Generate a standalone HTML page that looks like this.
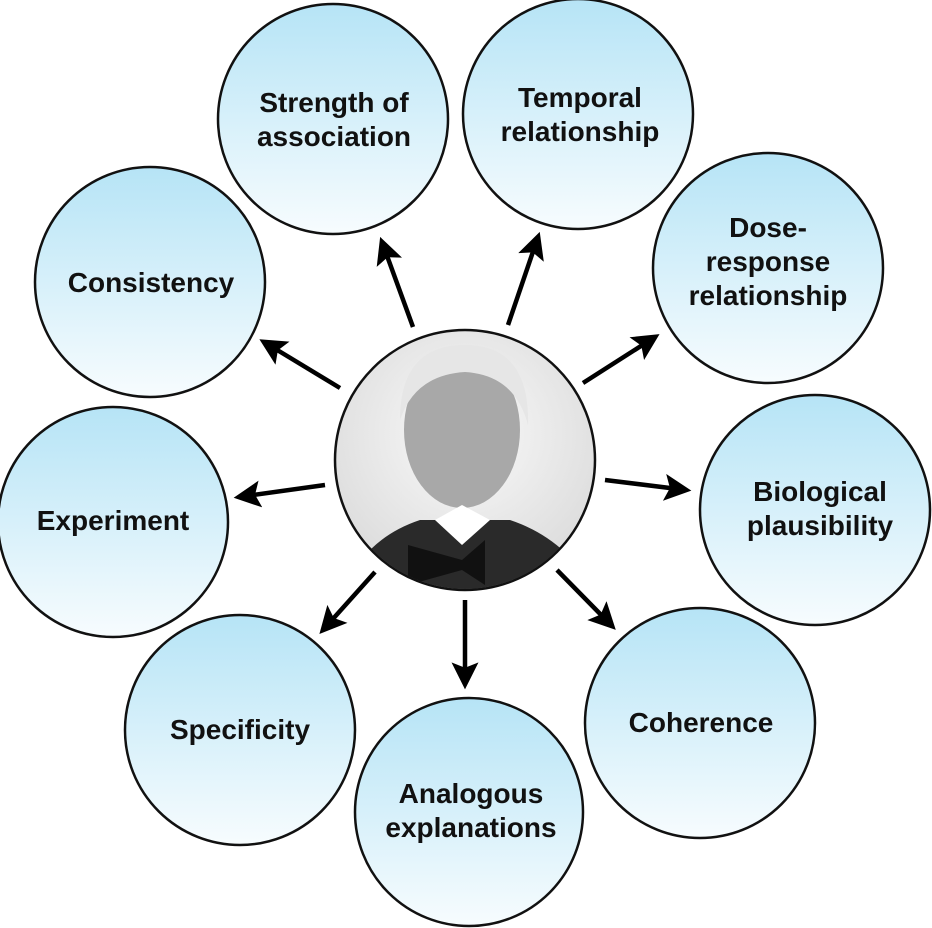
<!DOCTYPE html>
<html><head><style>
body{margin:0;background:#fff;}
svg{display:block}
text{font-family:"Liberation Sans",Arial,sans-serif;font-weight:bold;font-size:28px;fill:#111;text-anchor:middle}
</style></head><body>
<svg width="932" height="928" viewBox="0 0 932 928" xmlns="http://www.w3.org/2000/svg">
<defs>
<linearGradient id="g" x1="0" y1="0" x2="0" y2="1">
<stop offset="0" stop-color="#b6e4f6"/><stop offset="1" stop-color="#f7fcfe"/>
</linearGradient>
<radialGradient id="bg" cx="0.5" cy="0.4" r="0.6">
<stop offset="0" stop-color="#fafafa"/><stop offset="1" stop-color="#dcdcdc"/>
</radialGradient>
<marker id="a" viewBox="0 0 10 10" refX="8" refY="5" markerWidth="6" markerHeight="6" orient="auto">
<path d="M0,0 L10,5 L0,10 L2,5 z" fill="#000"/>
</marker>
<clipPath id="cp"><circle cx="465" cy="460" r="129"/></clipPath>
</defs>
<g stroke="#111" stroke-width="2.5" fill="url(#g)">
<circle cx="333" cy="119" r="115"/>
<circle cx="578" cy="114" r="115"/>
<circle cx="768" cy="268" r="115"/>
<circle cx="815" cy="510" r="115"/>
<circle cx="700" cy="723" r="115"/>
<circle cx="469" cy="812" r="114"/>
<circle cx="240" cy="730" r="115"/>
<circle cx="113" cy="522" r="115"/>
<circle cx="150" cy="282" r="115"/>
</g>
<g stroke="#000" stroke-width="4.5" marker-end="url(#a)">
<line x1="413" y1="327" x2="382" y2="242"/>
<line x1="508" y1="325" x2="538" y2="237"/>
<line x1="583" y1="383" x2="655" y2="337"/>
<line x1="605" y1="480" x2="686" y2="490"/>
<line x1="557" y1="570" x2="612" y2="626"/>
<line x1="465" y1="600" x2="465" y2="684"/>
<line x1="375" y1="572" x2="323" y2="630"/>
<line x1="325" y1="485" x2="239" y2="497"/>
<line x1="340" y1="388" x2="264" y2="342"/>
</g>
<circle cx="465" cy="460" r="130" fill="url(#bg)" stroke="#111" stroke-width="2.5"/>
<g clip-path="url(#cp)">
<path d="M340,600 Q360,540 420,520 L510,520 Q570,540 600,600 Z" fill="#2a2a2a"/>
<ellipse cx="462" cy="430" rx="58" ry="78" fill="#a8a8a8"/>
<path d="M400,420 Q400,345 465,345 Q530,345 528,425 Q515,375 465,372 Q415,375 400,420Z" fill="#e6e6e6"/>
<path d="M435,520 L462,505 L490,520 L462,545 Z" fill="#fff"/>
<path d="M408,545 L462,560 L485,540 L485,585 L462,570 L408,585Z" fill="#111"/>
</g>
<text x="334" y="112">Strength of</text><text x="334" y="146">association</text>
<text x="580" y="107">Temporal</text><text x="580" y="141">relationship</text>
<text x="768" y="237">Dose-</text><text x="768" y="271">response</text><text x="768" y="305">relationship</text>
<text x="820" y="501">Biological</text><text x="820" y="535">plausibility</text>
<text x="701" y="732">Coherence</text>
<text x="471" y="803">Analogous</text><text x="471" y="837">explanations</text>
<text x="240" y="739">Specificity</text>
<text x="113" y="530">Experiment</text>
<text x="151" y="292">Consistency</text>
</svg>
</body></html>
